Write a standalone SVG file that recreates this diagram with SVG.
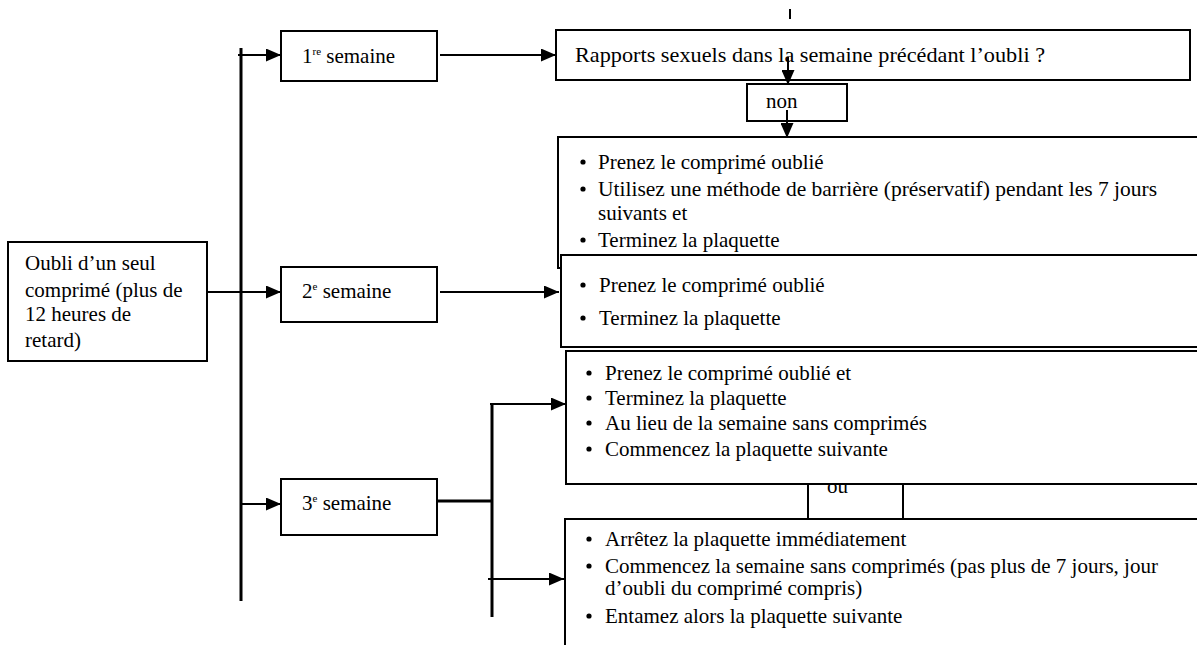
<svg xmlns="http://www.w3.org/2000/svg" width="1197" height="645" viewBox="0 0 1197 645">
<style>
.box{fill:#fff;stroke:#000;stroke-width:2}
.ln{fill:none;stroke:#000;stroke-width:2}
.thick{fill:none;stroke:#000;stroke-width:3}
text{font-family:"Liberation Serif","Times New Roman",serif;font-size:21px;fill:#000}
.sup{font-size:11px}
.dot{fill:#000}
</style>
<defs>
<marker id="ah" markerWidth="15" markerHeight="13" refX="15" refY="6.5" orient="auto" markerUnits="userSpaceOnUse" viewBox="0 0 15 13">
<path d="M0,0 L15,6.5 L0,13 z" fill="#000"/>
</marker>
</defs>

<g id="n-oubli">
<rect class="box" x="8" y="242" width="199" height="119"/>
<text x="25" y="270">Oubli d’un seul</text>
<text x="25" y="297">comprimé (plus de</text>
<text x="25" y="321">12 heures de</text>
<text x="25" y="347">retard)</text>
</g>

<g id="n-sem1">
<rect class="box" x="281" y="31" width="156" height="50"/>
<text x="302" y="63">1<tspan class="sup" dy="-8">re</tspan><tspan dy="8"> semaine</tspan></text>
</g>

<g id="n-sem2">
<rect class="box" x="281" y="267" width="156" height="55"/>
<text x="302" y="298">2<tspan class="sup" dy="-8">e</tspan><tspan dy="8"> semaine</tspan></text>
</g>

<g id="n-sem3">
<rect class="box" x="281" y="479" width="156" height="56"/>
<text x="302" y="510">3<tspan class="sup" dy="-8">e</tspan><tspan dy="8"> semaine</tspan></text>
</g>

<g id="n-rapports">
<rect class="box" x="556" y="30" width="634" height="50"/>
<text x="575" y="62" textLength="470" lengthAdjust="spacingAndGlyphs">Rapports sexuels dans la semaine précédant l’oubli ?</text>
</g>

<g id="n-non">
<rect class="box" x="747" y="84" width="100" height="37"/>
<text x="766" y="108">non</text>
</g>

<g id="n-advice1">
<rect class="box" x="558" y="137" width="642" height="131"/>
<circle class="dot" cx="583" cy="162" r="2.6"/>
<text x="598" y="169">Prenez le comprimé oublié</text>
<circle class="dot" cx="583" cy="189" r="2.6"/>
<text x="598" y="196" textLength="559" lengthAdjust="spacingAndGlyphs">Utilisez une méthode de barrière (préservatif) pendant les 7 jours</text>
<text x="598" y="220">suivants et</text>
<circle class="dot" cx="583" cy="240" r="2.6"/>
<text x="598" y="247">Terminez la plaquette</text>
</g>

<g id="n-advice2">
<rect class="box" x="561" y="255" width="639" height="92"/>
<circle class="dot" cx="583" cy="285" r="2.6"/>
<text x="599" y="292">Prenez le comprimé oublié</text>
<circle class="dot" cx="583" cy="318" r="2.6"/>
<text x="599" y="325">Terminez la plaquette</text>
</g>

<g id="n-ou">
<rect class="box" x="808" y="470" width="95" height="49"/>
<text x="827" y="493">ou</text>
</g>

<g id="n-advice3">
<rect class="box" x="566" y="351" width="634" height="133"/>
<circle class="dot" cx="589" cy="373" r="2.6"/>
<text x="605" y="380">Prenez le comprimé oublié et</text>
<circle class="dot" cx="589" cy="398" r="2.6"/>
<text x="605" y="405">Terminez la plaquette</text>
<circle class="dot" cx="589" cy="423" r="2.6"/>
<text x="605" y="430">Au lieu de la semaine sans comprimés</text>
<circle class="dot" cx="589" cy="449" r="2.6"/>
<text x="605" y="456">Commencez la plaquette suivante</text>
</g>

<g id="n-advice4">
<rect class="box" x="565" y="519" width="635" height="140"/>
<circle class="dot" cx="589" cy="539" r="2.6"/>
<text x="605" y="546">Arrêtez la plaquette immédiatement</text>
<circle class="dot" cx="589" cy="566" r="2.6"/>
<text x="605" y="573" textLength="553" lengthAdjust="spacingAndGlyphs">Commencez la semaine sans comprimés (pas plus de 7 jours, jour</text>
<text x="605" y="595">d’oubli du comprimé compris)</text>
<circle class="dot" cx="589" cy="616" r="2.6"/>
<text x="605" y="623">Entamez alors la plaquette suivante</text>
</g>

<g id="connectors">
<line class="thick" x1="241" y1="48" x2="241" y2="601"/>
<line class="ln" x1="238" y1="55" x2="281" y2="55" marker-end="url(#ah)"/>
<line class="ln" x1="207" y1="292" x2="281" y2="292" marker-end="url(#ah)"/>
<line class="ln" x1="241" y1="504" x2="281" y2="504" marker-end="url(#ah)"/>
<line class="ln" x1="440" y1="55" x2="556" y2="55" marker-end="url(#ah)"/>
<line class="ln" x1="440" y1="292" x2="559" y2="292" marker-end="url(#ah)"/>
<line class="thick" x1="437" y1="501" x2="492" y2="501"/>
<line class="thick" x1="492" y1="403" x2="492" y2="617"/>
<line class="ln" x1="490" y1="404" x2="566" y2="404" marker-end="url(#ah)"/>
<line class="ln" x1="488" y1="579" x2="564" y2="579" marker-end="url(#ah)"/>
<line class="ln" x1="790" y1="9" x2="790" y2="19"/>
<line class="ln" x1="788" y1="57" x2="788" y2="85" marker-end="url(#ah)"/>
<line class="ln" x1="787" y1="110" x2="787" y2="138" marker-end="url(#ah)"/>
</g>
</svg>
